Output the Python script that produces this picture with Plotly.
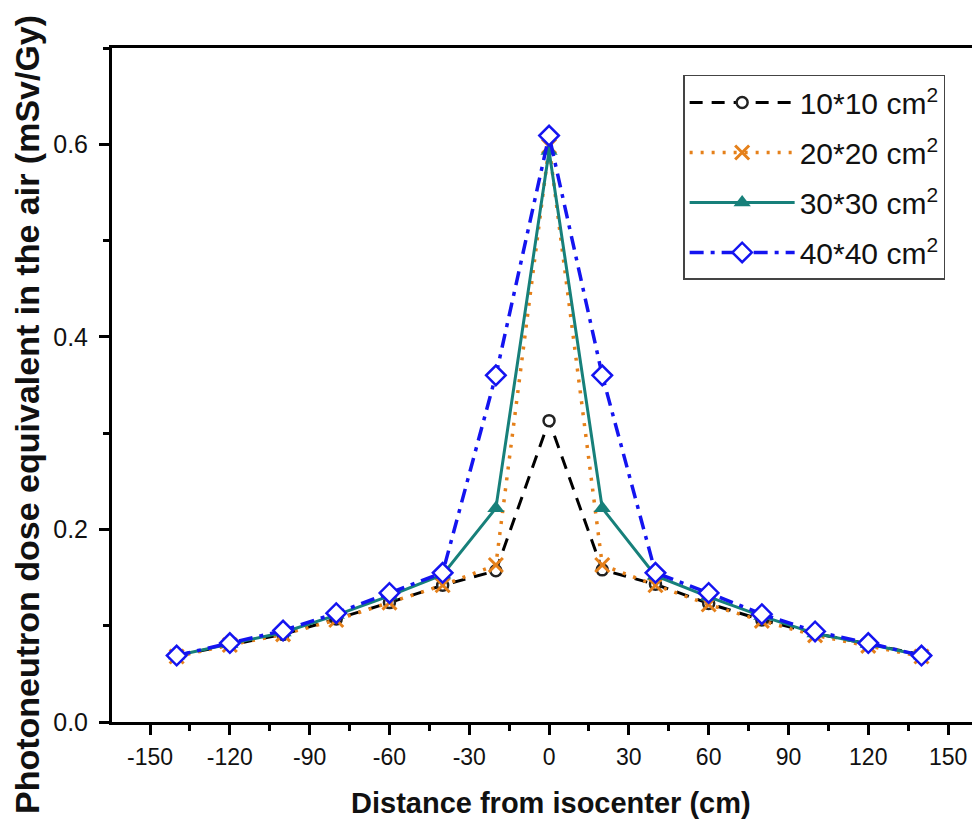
import plotly.graph_objects as go

distance = [-140, -120, -100, -80, -60, -40, -20, 0, 20, 40, 60, 80, 100, 120, 140]
field_10 = [0.069, 0.080, 0.091, 0.107, 0.124, 0.142, 0.157, 0.313, 0.158, 0.143, 0.123, 0.106, 0.092, 0.081, 0.070]
field_20 = [0.068, 0.080, 0.091, 0.106, 0.124, 0.142, 0.163, 0.598, 0.163, 0.142, 0.122, 0.105, 0.090, 0.079, 0.068]
field_30 = [0.069, 0.081, 0.093, 0.111, 0.131, 0.153, 0.222, 0.593, 0.222, 0.152, 0.130, 0.110, 0.092, 0.081, 0.069]
field_40 = [0.069, 0.082, 0.095, 0.113, 0.134, 0.155, 0.360, 0.609, 0.360, 0.155, 0.134, 0.112, 0.094, 0.082, 0.069]
names = ["10*10 cm<sup>2</sup>", "20*20 cm<sup>2</sup>", "30*30 cm<sup>2</sup>", "40*40 cm<sup>2</sup>"]
x_tickvals = [-150, -120, -90, -60, -30, 0, 30, 60, 90, 120, 150]
x_ticktext = ["-150", "-120", "-90", "-60", "-30", "0", "30", "60", "90", "120", "150"]

fig = go.Figure()
fig.add_trace(go.Scatter(x=distance, y=field_10, name=names[0], mode="lines+markers", legendgroup="a",
                         line=dict(color="black", width=3, dash="13px,9px"),
                         marker=dict(symbol="circle", size=11, color="white", line=dict(color="#222", width=2.5))))
fig.add_trace(go.Scatter(x=distance, y=field_20, name=names[1], mode="lines+markers", legendgroup="b",
                         line=dict(color="#E5801A", width=3.5, dash="3px,8px"),
                         marker=dict(symbol="x-thin-open", size=14, color="#E5801A", line=dict(color="#E5801A", width=3))))
fig.add_trace(go.Scatter(x=distance, y=field_30, name=names[2], mode="lines+markers", legendgroup="c",
                         line=dict(color="#17807A", width=3),
                         marker=dict(symbol="triangle-up", size=15, color="#17807A")))
fig.add_trace(go.Scatter(x=distance, y=field_40, name=names[3], mode="lines+markers", legendgroup="d",
                         line=dict(color="#1414F0", width=3.5, dash="14px,7px,4px,7px"),
                         marker=dict(symbol="diamond", size=15, color="white", line=dict(color="#1414F0", width=2.5))))

fig.update_layout(
    width=972, height=812,
    margin=dict(l=104, r=0, t=40, b=98, autoexpand=False),
    plot_bgcolor="white", paper_bgcolor="white",
    font=dict(family="Liberation Sans, Arial, sans-serif", color="#111"),
    showlegend=True,
    legend=dict(x=0.658, y=0.96, xanchor="left", yanchor="top",
                bgcolor="white", bordercolor="#444", borderwidth=1.5,
                font=dict(size=30, color="#111"), itemwidth=105,
                tracegroupgap=8, traceorder="grouped"),
    xaxis=dict(range=[-164.3, 162], tickmode="array",
               tickvals=x_tickvals, ticktext=x_ticktext, automargin=False,
               ticks="outside", ticklen=10, tickwidth=3, tickcolor="black",
               minor=dict(ticks="outside", ticklen=6, tickwidth=3, tickcolor="black", dtick=15, tick0=-165),
               showline=True, linewidth=3, linecolor="black", mirror=True,
               showgrid=False, zeroline=False, ticklabelstandoff=2,
               tickfont=dict(size=23, color="#111")),
    yaxis=dict(range=[0, 0.7], dtick=0.2, tickformat=".1f", automargin=False,
               ticks="outside", ticklen=10, tickwidth=3, tickcolor="black",
               minor=dict(ticks="outside", ticklen=6, tickwidth=3, tickcolor="black", dtick=0.1),
               showline=True, linewidth=3, linecolor="black", mirror=False,
               showgrid=False, zeroline=False, ticklabelstandoff=6,
               tickfont=dict(size=25, color="#111")),
    annotations=[
        dict(text="<b>Distance from isocenter (cm)</b>", xref="paper", yref="paper",
             x=(551 - 112) / 868, y=-(803 - 722) / 674, xanchor="center", yanchor="middle",
             showarrow=False, font=dict(size=29, color="#111")),
        dict(text="<b>Photoneutron dose equivalent in the air (mSv/Gy)</b>", xref="paper", yref="paper",
             x=-(112 - 27) / 868, y=(722 - 415) / 674, xanchor="center", yanchor="middle",
             textangle=-90, showarrow=False, font=dict(size=34, color="#111")),
    ],
)

fig.write_html("out.html")
